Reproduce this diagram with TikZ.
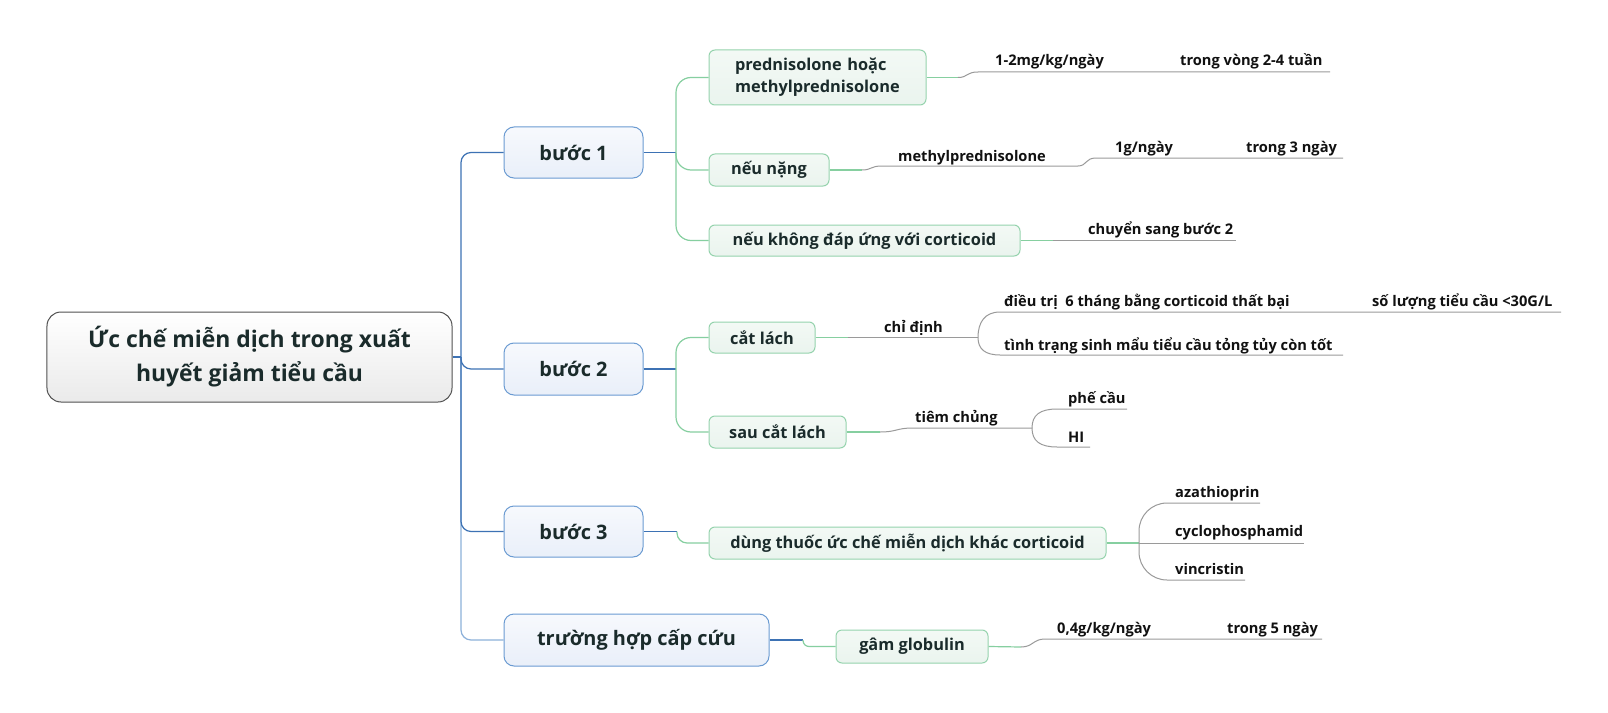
\documentclass[tikz,border=0pt]{standalone}
\usepackage{fontspec}
\setmainfont{Open Sans}
\definecolor{blueline}{HTML}{3D72B4}
\definecolor{lightblue}{HTML}{8DB1DA}
\definecolor{stepborder}{HTML}{6B9BD2}
\definecolor{stepfillA}{HTML}{F7F9FD}
\definecolor{stepfillB}{HTML}{E9EFF9}
\definecolor{greenline}{HTML}{86CFA0}
\definecolor{childborder}{HTML}{95D3AD}
\definecolor{childfillA}{HTML}{F3F9F5}
\definecolor{childfillB}{HTML}{EAF4EE}
\definecolor{rootborder}{HTML}{505050}
\definecolor{rootfill}{HTML}{EAEAEA}
\definecolor{grayline}{HTML}{9A9A9A}
\definecolor{txt}{HTML}{1A2B2B}
\definecolor{subtxtc}{HTML}{111111}
\begin{document}
\begin{tikzpicture}[x=1bp,y=-1bp,
 rootbox/.style={draw=rootborder, line width=1bp, rounded corners=14bp, top color=white, bottom color=rootfill, minimum width=405bp, minimum height=90bp, align=center, inner sep=0, font=\fontsize{23}{34}\selectfont\bfseries, text=txt},
 stepbox/.style={draw=stepborder, line width=1bp, rounded corners=10bp, top color=stepfillA, bottom color=stepfillB, minimum height=51bp, font=\fontsize{20}{24}\selectfont\bfseries, text=txt, inner sep=0},
 childbox/.style={draw=childborder, line width=1bp, rounded corners=6bp, top color=childfillA, bottom color=childfillB, minimum height=32bp, font=\fontsize{16.4}{22}\selectfont\bfseries, text=txt, inner sep=0},
 subtxt/.style={anchor=base west, inner sep=0, font=\fontsize{14.7}{17}\selectfont\bfseries, text=subtxtc},
 bline/.style={draw=blueline, line width=1.2bp},
 lbline/.style={draw=lightblue, line width=1.2bp},
 gline/.style={draw=greenline, line width=1.2bp},
 sline/.style={draw=grayline, line width=1bp},
]
\useasboundingbox[fill=white] (0,0) rectangle (1608,713);

% root and steps
\node[rootbox] (root) at (249.5,357) {Ức chế miễn dịch trong xuất\\huyết giảm tiểu cầu};
\node[stepbox, minimum width=139bp] (s1) at (573.5,152.5) {bước 1};
\node[stepbox, minimum width=139bp, minimum height=52bp] (s2) at (573.5,369) {bước 2};
\node[stepbox, minimum width=139bp] (s3) at (573.5,531.5) {bước 3};
\node[stepbox, minimum width=265bp, minimum height=52bp] (s4) at (636.5,640) {trường hợp cấp cứu};

% children
\node[childbox, text width=165bp, inner xsep=26bp, minimum height=55bp, align=left] (c11) at (817.5,77.5) {prednisolone hoặc\\methylprednisolone};
\node[childbox, minimum width=120bp] (c12) at (769,170) {nếu nặng};
\node[childbox, minimum width=311bp, minimum height=31bp] (c13) at (864.5,240.5) {nếu không đáp ứng với corticoid};
\node[childbox, minimum width=106bp, minimum height=31bp] (c21) at (762,337.5) {cắt lách};
\node[childbox, minimum width=137bp] (c22) at (777.5,432) {sau cắt lách};
\node[childbox, minimum width=397bp] (c31) at (907.5,543) {dùng thuốc ức chế miễn dịch khác corticoid};
\node[childbox, minimum width=152bp, minimum height=33bp] (c41) at (912,646.5) {gâm globulin};

% sub texts
\node[subtxt] (t11) at (995,66) {1-2mg/kg/ngày};
\node[subtxt] (t12) at (1180,66) {trong vòng 2-4 tuần};
\node[subtxt] (t21) at (898,161) {methylprednisolone};
\node[subtxt] (t22) at (1115,153) {1g/ngày};
\node[subtxt] (t23) at (1246,153) {trong 3 ngày};
\node[subtxt] (t31) at (1088,234) {chuyển sang bước 2};
\node[subtxt] (u11) at (884,332) {chỉ định};
\node[subtxt] (u12) at (1004,306) {điều trị~ 6 tháng bằng corticoid thất bại};
\node[subtxt] (u13) at (1372,306) {số lượng tiểu cầu <30G/L};
\node[subtxt] (u14) at (1004,350) {tình trạng sinh mẩu tiểu cầu tỏng tủy còn tốt};
\node[subtxt] (u21) at (915,422) {tiêm chủng};
\node[subtxt] (u22) at (1068,403) {phế cầu};
\node[subtxt] (u23) at (1068,442) {HI};
\node[subtxt] (v1) at (1175,497) {azathioprin};
\node[subtxt] (v2) at (1175,536) {cyclophosphamid};
\node[subtxt] (v3) at (1175,574) {vincristin};
\node[subtxt] (w1) at (1057,633) {0,4g/kg/ngày};
\node[subtxt] (w2) at (1227,633) {trong 5 ngày};

% junction coordinates
\coordinate (r0) at (461,357);
\coordinate (j1) at (676,152.5);
\coordinate (j2) at (676,369);
\coordinate (j3) at (677,531.5);
\coordinate (j4) at (803,640);

% root -> steps
\draw[lbline, rounded corners=10bp] (r0) |- (s4.west);
\draw[bline, rounded corners=10bp] (r0) |- (s3.west);
\draw[bline, rounded corners=10bp] (r0) |- (s1.west);
\draw[bline, rounded corners=10bp] (r0) |- (s2.west);
\draw[bline] (root.east) -- (r0);

% steps -> children
\draw[bline] (s1.east) -- (j1);
\draw[gline, rounded corners=15bp] (j1) |- (c11.west);
\draw[gline, rounded corners=15bp] (j1) |- (c12.west);
\draw[gline, rounded corners=15bp] (j1) |- (c13.west);
\draw[bline] (s2.east) -- (j2);
\draw[gline, rounded corners=15bp] (j2) |- (c21.west);
\draw[gline, rounded corners=15bp] (j2) |- (c22.west);
\draw[bline] (s3.east) -- (j3);
\draw[gline, rounded corners=10bp] (j3) |- (c31.west);
\draw[bline] (s4.east) -- (j4);
\draw[gline, rounded corners=6bp] (j4) |- (c41.west);

% sub branch 1a
\coordinate (k1) at (958,77.5);
\draw[gline] (c11.east) -- (k1);
\draw[sline] (k1) .. controls (968,77.5) and (966,72) .. (978,72) -- (1330,72);
% 1b
\coordinate (k2) at (862,170);
\draw[gline] (c12.east) -- (k2);
\draw[sline] (k2) .. controls (872,170) and (870,166) .. (882,166) -- (1078,166)
  .. controls (1087,166) and (1085,158) .. (1096,158) -- (1343,158);
% 1c
\coordinate (k3) at (1053,240.5);
\draw[gline] (c13.east) -- (k3);
\draw[sline] (k3) -- (1236,240.5);
% 2a
\coordinate (k4) at (848,337.5);
\coordinate (b4) at (978,337.5);
\draw[gline] (c21.east) -- (k4);
\draw[sline] (k4) -- (b4);
\draw[sline] (b4) .. controls (978,322) and (985,312) .. (1000,312) -- (1561,312);
\draw[sline] (b4) .. controls (978,349) and (985,355) .. (1000,355) -- (1343,355);
% 2b
\coordinate (k5) at (880,432);
\coordinate (b5) at (1032,428);
\draw[gline] (c22.east) -- (k5);
\draw[sline] (k5) .. controls (897,432) and (896,428) .. (913,428) -- (b5);
\draw[sline] (b5) .. controls (1032,415) and (1040,409) .. (1057,409) -- (1127,409);
\draw[sline] (b5) .. controls (1032,441) and (1040,447) .. (1057,447) -- (1090,447);
% 3
\coordinate (k6) at (1139,543);
\draw[gline] (c31.east) -- (k6);
\draw[sline] (k6) -- (1304,543);
\draw[sline, rounded corners=28bp] (k6) |- (1260,503);
\draw[sline, rounded corners=28bp] (k6) |- (1245,580);
% 4
\coordinate (k7) at (1021,647);
\draw[gline] (c41.east) -- (k7);
\draw[sline] (k7) .. controls (1033,647) and (1033,639) .. (1045,639) -- (1322,639);
\end{tikzpicture}
\end{document}
